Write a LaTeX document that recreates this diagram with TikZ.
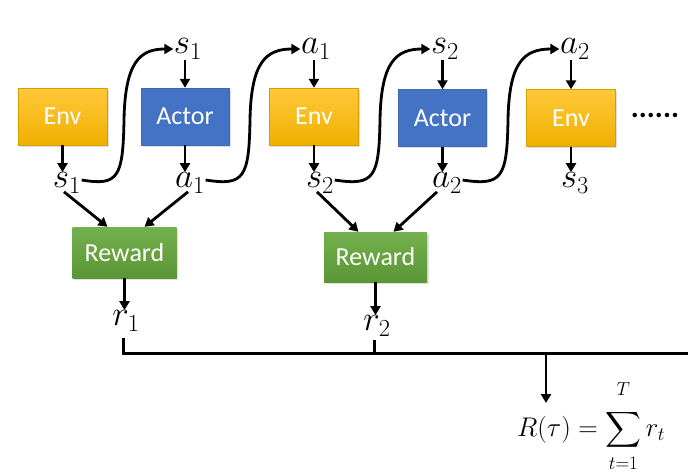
\RequirePackage{fix-cm}
\documentclass[tikz,border=0pt]{standalone}
\usepackage{graphicx}
\usepackage{fontspec}
\setmainfont{Carlito}
\usepackage{amsmath}
\usetikzlibrary{arrows.meta,shadows,calc}
\definecolor{envtop}{HTML}{FFC83A}
\definecolor{envbot}{HTML}{F0B000}
\definecolor{actorc}{HTML}{4472C4}
\definecolor{actorb}{HTML}{3F69B5}
\definecolor{rewtop}{HTML}{74B04C}
\definecolor{rewbot}{HTML}{5A9636}
\newcommand{\mlab}[1]{\scalebox{1.25}{$#1$}}
\tikzset{
  box/.style={minimum height=57pt, text=white, inner sep=0pt,
    font=\fontsize{26}{30}\selectfont,
    drop shadow={opacity=0.25, shadow xshift=1.5pt, shadow yshift=-1.5pt}},
  envbox/.style={box, minimum width=89pt, top color=envtop, bottom color=envbot, draw=envbot!90!black, line width=0.3pt},
  actorbox/.style={box, minimum width=88pt, fill=actorc, draw=actorb, line width=0.5pt},
  rewbox/.style={box, minimum width=104pt, minimum height=51pt, top color=rewtop, bottom color=rewbot},
  lab/.style={inner sep=0.5pt, font=\fontsize{28}{32}\selectfont},
  arr/.style={line width=2.8pt, -{Triangle[length=9pt,width=10pt]}},
  ln/.style={line width=3pt}
}
\begin{document}
\begin{tikzpicture}[x=1pt,y=-1pt]
\useasboundingbox (0,0) rectangle (688,475);
% boxes
\node[envbox] (env1) at (62.5,116.5) {Env};
\node[actorbox] (act1) at (185,116.5) {Actor};
\node[envbox] (env2) at (314,116.5) {Env};
\node[actorbox] (act2) at (442.5,118) {Actor};
\node[envbox] (env3) at (571,118) {Env};
\node[inner sep=0pt, font=\fontsize{30}{32}\selectfont\bfseries] (dots) at (655,115) {......};
\node[rewbox] (rew1) at (124.5,252.5) {Reward};
\node[rewbox, minimum width=103pt, minimum height=50pt] (rew2) at (375.5,257) {Reward};
% labels top
\node[lab] (st1) at (188,49) {\mlab{s_1}};
\node[lab] (at1) at (316,49) {\mlab{a_1}};
\node[lab] (st2) at (445,49) {\mlab{s_2}};
\node[lab] (at2) at (575,49) {\mlab{a_2}};
% labels bottom
\node[lab] (sb1) at (67,183) {\mlab{s_1}};
\node[lab] (ab1) at (190,183) {\mlab{a_1}};
\node[lab] (sb2) at (320,183) {\mlab{s_2}};
\node[lab] (ab2) at (447,183) {\mlab{a_2}};
\node[lab] (sb3) at (575,183) {\mlab{s_3}};
\node[lab] (r1) at (126,321) {\mlab{r_1}};
\node[lab] (r2) at (377,326) {\mlab{r_2}};
% vertical arrows
\draw[arr] (act1.north |- st1.south) -- (act1.north);
\draw[arr] (env2.north |- at1.south) -- (env2.north);
\draw[arr] (act2.north |- st2.south) -- (act2.north);
\draw[arr] (env3.north |- at2.south) -- (env3.north);
\draw[arr] (env1.south) -- (env1.south |- sb1.north);
\draw[arr] (act1.south) -- (act1.south |- ab1.north);
\draw[arr] (env2.south) -- (env2.south |- sb2.north);
\draw[arr] (act2.south) -- (act2.south |- ab2.north);
\draw[arr] (env3.south) -- (env3.south |- sb3.north);
% s-curves
\draw[arr] ([yshift=3pt]sb1.east) .. controls (118,186) and (123,178) .. (124,120)
  .. controls (125,62) and (140,49) .. (st1.west);
\draw[arr] ([yshift=3pt]ab1.east) .. controls (244,186) and (249,178) .. (250,120)
  .. controls (251,62) and (266,49) .. (at1.west);
\draw[arr] ([yshift=3pt]sb2.east) .. controls (374,186) and (379,178) .. (380,120)
  .. controls (381,62) and (396,49) .. (st2.west);
\draw[arr] ([yshift=3pt]ab2.east) .. controls (502,186) and (507,178) .. (508,120)
  .. controls (509,62) and (524,49) .. (at2.west);
% diagonal arrows to reward
\draw[arr] ([yshift=2pt,xshift=-3pt]sb1.south) -- ([xshift=-17pt]rew1.north);
\draw[arr] ([yshift=2pt,xshift=-2pt]ab1.south) -- ([xshift=20pt]rew1.north);
\draw[arr] ([yshift=2pt,xshift=-3pt]sb2.south) -- ([xshift=-17pt]rew2.north);
\draw[arr] ([yshift=2pt,xshift=-10pt]ab2.south) -- ([xshift=18pt]rew2.north);
% reward outputs
\draw[arr] (rew1.south) -- (rew1.south |- r1.north);
\draw[arr] (rew2.south) -- (rew2.south |- r2.north);
% sum line
\coordinate (c1) at (123,353);
\coordinate (c2) at (374,353);
\coordinate (c3) at (546,353);
\coordinate (cend) at (688,353);
\coordinate (t1) at (123,338);
\coordinate (t2) at (374,340);
\draw[ln] (t1) -- (c1) -- (cend);
\draw[ln] (t2) -- (c2);
\node[inner sep=0pt, font=\fontsize{27}{30}\selectfont] (ret) at (591,426)
  {$\displaystyle R(\tau)=\sum_{\raisebox{-5pt}{$\scriptstyle t=1$}}^{\raisebox{9pt}{$\scriptstyle T$}} r_t$};
\coordinate (c4) at (546,403);
\draw[arr] (c3) -- (c4);
\end{tikzpicture}
\end{document}
